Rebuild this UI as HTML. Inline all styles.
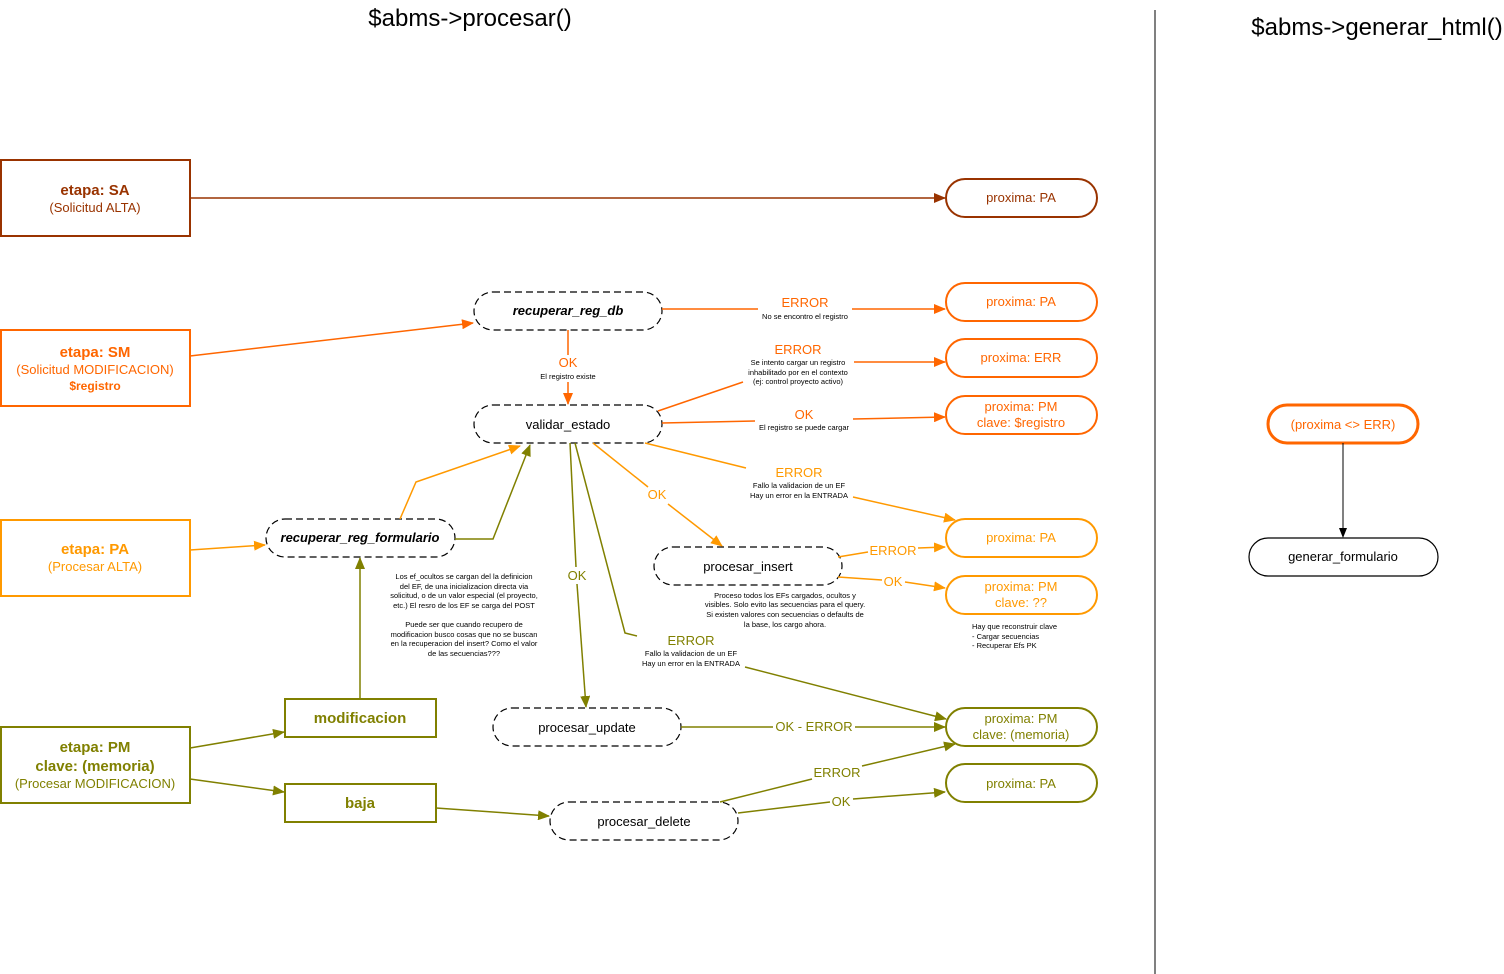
<!DOCTYPE html>
<html><head><meta charset="utf-8"><style>
html,body{margin:0;padding:0;background:#fff;width:1504px;height:974px;overflow:hidden}
svg{display:block;font-family:"Liberation Sans",Arial,sans-serif}
</style></head><body>
<svg width="1504" height="974" viewBox="0 0 1504 974" xmlns="http://www.w3.org/2000/svg">
<defs>
<marker id="aB" markerWidth="12" markerHeight="10" refX="11" refY="5" orient="auto" markerUnits="userSpaceOnUse"><path d="M0,0 L12,5 L0,10 z" fill="#993300"/></marker>
<marker id="aO" markerWidth="12" markerHeight="10" refX="11" refY="5" orient="auto" markerUnits="userSpaceOnUse"><path d="M0,0 L12,5 L0,10 z" fill="#ff6600"/></marker>
<marker id="aL" markerWidth="12" markerHeight="10" refX="11" refY="5" orient="auto" markerUnits="userSpaceOnUse"><path d="M0,0 L12,5 L0,10 z" fill="#ff9900"/></marker>
<marker id="aV" markerWidth="12" markerHeight="10" refX="11" refY="5" orient="auto" markerUnits="userSpaceOnUse"><path d="M0,0 L12,5 L0,10 z" fill="#808000"/></marker>
<marker id="aK" markerWidth="10" markerHeight="8" refX="9" refY="4" orient="auto" markerUnits="userSpaceOnUse"><path d="M0,0 L10,4 L0,8 z" fill="#000"/></marker>
</defs>

<text x="470" y="26" font-size="24" text-anchor="middle">$abms-&gt;procesar()</text>
<text x="1377" y="35" font-size="24" text-anchor="middle">$abms-&gt;generar_html()</text>
<line x1="1155" y1="10" x2="1155" y2="974" stroke="#000" stroke-width="1"/>

<g stroke-width="2" fill="#fff">
<rect x="1" y="160" width="189" height="76" stroke="#993300"/>
<rect x="1" y="330" width="189" height="76" stroke="#ff6600"/>
<rect x="1" y="520" width="189" height="76" stroke="#ff9900"/>
<rect x="1" y="727" width="189" height="76" stroke="#808000"/>
<rect x="285" y="699" width="151" height="38" stroke="#808000"/>
<rect x="285" y="784" width="151" height="38" stroke="#808000"/>
</g>
<g text-anchor="middle">
<text x="95" y="195" font-size="15" font-weight="bold" fill="#993300">etapa: SA</text>
<text x="95" y="212" font-size="13" fill="#993300">(Solicitud ALTA)</text>
<text x="95" y="357" font-size="15" font-weight="bold" fill="#ff6600">etapa: SM</text>
<text x="95" y="374" font-size="13" fill="#ff6600">(Solicitud MODIFICACION)</text>
<text x="95" y="390" font-size="12" font-weight="bold" fill="#ff6600">$registro</text>
<text x="95" y="554" font-size="15" font-weight="bold" fill="#ff9900">etapa: PA</text>
<text x="95" y="571" font-size="13" fill="#ff9900">(Procesar ALTA)</text>
<text x="95" y="752" font-size="15" font-weight="bold" fill="#808000">etapa: PM</text>
<text x="95" y="771" font-size="15" font-weight="bold" fill="#808000">clave: (memoria)</text>
<text x="95" y="788" font-size="13" fill="#808000">(Procesar MODIFICACION)</text>
<text x="360" y="723" font-size="15" font-weight="bold" fill="#808000">modificacion</text>
<text x="360" y="808" font-size="15" font-weight="bold" fill="#808000">baja</text>
</g>

<g stroke="#000" stroke-width="1.2" stroke-dasharray="7,4" fill="#fff">
<rect x="474" y="292" width="188" height="38" rx="19"/>
<rect x="474" y="405" width="188" height="38" rx="19"/>
<rect x="266" y="519" width="189" height="38" rx="19"/>
<rect x="654" y="547" width="188" height="38" rx="19"/>
<rect x="493" y="708" width="188" height="38" rx="19"/>
<rect x="550" y="802" width="188" height="38" rx="19"/>
</g>
<g text-anchor="middle" font-size="13" fill="#000">
<text x="568" y="315" font-weight="bold" font-style="italic">recuperar_reg_db</text>
<text x="568" y="429">validar_estado</text>
<text x="360" y="542" font-weight="bold" font-style="italic">recuperar_reg_formulario</text>
<text x="748" y="571">procesar_insert</text>
<text x="587" y="732">procesar_update</text>
<text x="644" y="826">procesar_delete</text>
</g>

<g stroke-width="2" fill="#fff">
<rect x="946" y="179" width="151" height="38" rx="19" stroke="#993300"/>
<rect x="946" y="283" width="151" height="38" rx="19" stroke="#ff6600"/>
<rect x="946" y="339" width="151" height="38" rx="19" stroke="#ff6600"/>
<rect x="946" y="396" width="151" height="38" rx="19" stroke="#ff6600"/>
<rect x="946" y="519" width="151" height="38" rx="19" stroke="#ff9900"/>
<rect x="946" y="576" width="151" height="38" rx="19" stroke="#ff9900"/>
<rect x="946" y="708" width="151" height="38" rx="19" stroke="#808000"/>
<rect x="946" y="764" width="151" height="38" rx="19" stroke="#808000"/>
<rect x="1268" y="405" width="150" height="38" rx="19" stroke="#ff6600" stroke-width="3"/>
<rect x="1249" y="538" width="189" height="38" rx="19" stroke="#000" stroke-width="1.2"/>
</g>
<g text-anchor="middle" font-size="13">
<text x="1021" y="202" fill="#993300">proxima: PA</text>
<text x="1021" y="306" fill="#ff6600">proxima: PA</text>
<text x="1021" y="362" fill="#ff6600">proxima: ERR</text>
<text x="1021" y="411" fill="#ff6600">proxima: PM</text>
<text x="1021" y="427" fill="#ff6600">clave: $registro</text>
<text x="1021" y="542" fill="#ff9900">proxima: PA</text>
<text x="1021" y="591" fill="#ff9900">proxima: PM</text>
<text x="1021" y="607" fill="#ff9900">clave: ??</text>
<text x="1021" y="723" fill="#808000">proxima: PM</text>
<text x="1021" y="739" fill="#808000">clave: (memoria)</text>
<text x="1021" y="788" fill="#808000">proxima: PA</text>
<text x="1343" y="429" fill="#ff6600">(proxima &lt;&gt; ERR)</text>
<text x="1343" y="561" fill="#000">generar_formulario</text>
</g>

<g fill="none" stroke-width="1.5">
<line x1="190" y1="198" x2="945" y2="198" stroke="#993300" marker-end="url(#aB)"/>
<line x1="190" y1="356" x2="473" y2="323" stroke="#ff6600" marker-end="url(#aO)"/>
<polyline points="662,309 758,309" stroke="#ff6600"/>
<line x1="852" y1="309" x2="945" y2="309" stroke="#ff6600" marker-end="url(#aO)"/>
<line x1="568" y1="330" x2="568" y2="355" stroke="#ff6600"/>
<line x1="568" y1="382" x2="568" y2="404" stroke="#ff6600" marker-end="url(#aO)"/>
<line x1="658" y1="411" x2="743" y2="382" stroke="#ff6600"/>
<line x1="854" y1="362" x2="945" y2="362" stroke="#ff6600" marker-end="url(#aO)"/>
<line x1="662" y1="423" x2="755" y2="421" stroke="#ff6600"/>
<line x1="853" y1="419" x2="945" y2="417" stroke="#ff6600" marker-end="url(#aO)"/>

<line x1="190" y1="550" x2="265" y2="545" stroke="#ff9900" marker-end="url(#aL)"/>
<polyline points="400,519 416,482 520,446" stroke="#ff9900" marker-end="url(#aL)"/>
<line x1="645" y1="443" x2="746" y2="468" stroke="#ff9900"/>
<line x1="853" y1="497" x2="955" y2="520" stroke="#ff9900" marker-end="url(#aL)"/>
<line x1="593" y1="443" x2="648" y2="487" stroke="#ff9900"/>
<line x1="668" y1="504" x2="722" y2="546" stroke="#ff9900" marker-end="url(#aL)"/>
<line x1="838" y1="557" x2="868" y2="552" stroke="#ff9900"/>
<line x1="918" y1="548" x2="945" y2="547" stroke="#ff9900" marker-end="url(#aL)"/>
<line x1="838" y1="577" x2="882" y2="580" stroke="#ff9900"/>
<line x1="905" y1="582" x2="945" y2="588" stroke="#ff9900" marker-end="url(#aL)"/>

<polyline points="455,539 493,539 530,445" stroke="#808000" marker-end="url(#aV)"/>
<line x1="360" y1="699" x2="360" y2="558" stroke="#808000" marker-end="url(#aV)"/>
<line x1="570" y1="443" x2="576" y2="567" stroke="#808000"/>
<line x1="577" y1="584" x2="586" y2="707" stroke="#808000" marker-end="url(#aV)"/>
<polyline points="575,443 625,633 637,636" stroke="#808000"/>
<line x1="745" y1="667" x2="946" y2="719" stroke="#808000" marker-end="url(#aV)"/>
<line x1="681" y1="727" x2="773" y2="727" stroke="#808000"/>
<line x1="855" y1="727" x2="945" y2="727" stroke="#808000" marker-end="url(#aV)"/>
<line x1="190" y1="748" x2="284" y2="732" stroke="#808000" marker-end="url(#aV)"/>
<line x1="190" y1="779" x2="284" y2="792" stroke="#808000" marker-end="url(#aV)"/>
<line x1="436" y1="808" x2="549" y2="816" stroke="#808000" marker-end="url(#aV)"/>
<line x1="720" y1="802" x2="812" y2="779" stroke="#808000"/>
<line x1="862" y1="766" x2="955" y2="744" stroke="#808000" marker-end="url(#aV)"/>
<line x1="738" y1="813" x2="830" y2="802" stroke="#808000"/>
<line x1="853" y1="799" x2="945" y2="792" stroke="#808000" marker-end="url(#aV)"/>

<line x1="1343" y1="443" x2="1343" y2="537" stroke="#000" stroke-width="1" marker-end="url(#aK)"/>
</g>

<g text-anchor="middle">
<text x="805" y="307" font-size="13" fill="#ff6600">ERROR</text>
<text x="805" y="319" font-size="7.5" fill="#000">No se encontro el registro</text>
<text x="568" y="367" font-size="13" fill="#ff6600">OK</text>
<text x="568" y="379" font-size="7.5" fill="#000">El registro existe</text>
<text x="798" y="354" font-size="13" fill="#ff6600">ERROR</text>
<text x="798" y="365" font-size="7.5" fill="#000">Se intento cargar un registro</text>
<text x="798" y="375" font-size="7.5" fill="#000">inhabilitado por en el contexto</text>
<text x="798" y="384" font-size="7.5" fill="#000">(ej: control proyecto activo)</text>
<text x="804" y="419" font-size="13" fill="#ff6600">OK</text>
<text x="804" y="430" font-size="7.5" fill="#000">El registro se puede cargar</text>
<text x="799" y="477" font-size="13" fill="#ff9900">ERROR</text>
<text x="799" y="488" font-size="7.5" fill="#000">Fallo la validacion de un EF</text>
<text x="799" y="498" font-size="7.5" fill="#000">Hay un error en la ENTRADA</text>
<text x="657" y="499" font-size="13" fill="#ff9900">OK</text>
<text x="893" y="555" font-size="13" fill="#ff9900">ERROR</text>
<text x="893" y="586" font-size="13" fill="#ff9900">OK</text>
<text x="577" y="580" font-size="13" fill="#808000">OK</text>
<text x="691" y="645" font-size="13" fill="#808000">ERROR</text>
<text x="691" y="656" font-size="7.5" fill="#000">Fallo la validacion de un EF</text>
<text x="691" y="666" font-size="7.5" fill="#000">Hay un error en la ENTRADA</text>
<text x="814" y="731" font-size="13" fill="#808000">OK - ERROR</text>
<text x="837" y="777" font-size="13" fill="#808000">ERROR</text>
<text x="841" y="806" font-size="13" fill="#808000">OK</text>
</g>

<g text-anchor="middle" font-size="7.5" fill="#000">
<text x="464" y="579">Los ef_ocultos se cargan del la definicion</text>
<text x="464" y="589">del EF, de una inicializacion directa via</text>
<text x="464" y="598">solicitud, o de un valor especial (el proyecto,</text>
<text x="464" y="608">etc.) El resro de los EF se carga del POST</text>
<text x="464" y="627">Puede ser que cuando recupero de</text>
<text x="464" y="637">modificacion busco cosas que no se buscan</text>
<text x="464" y="646">en la recuperacion del insert? Como el valor</text>
<text x="464" y="656">de las secuencias???</text>
<text x="785" y="598">Proceso todos los EFs cargados, ocultos y</text>
<text x="785" y="607">visibles. Solo evito las secuencias para el query.</text>
<text x="785" y="617">Si existen valores con secuencias o defaults de</text>
<text x="785" y="627">la base, los cargo ahora.</text>
</g>
<g font-size="7.5" fill="#000">
<text x="972" y="629">Hay que reconstruir clave</text>
<text x="972" y="639">- Cargar secuencias</text>
<text x="972" y="648">- Recuperar Efs PK</text>
</g>
</svg>
</body></html>
